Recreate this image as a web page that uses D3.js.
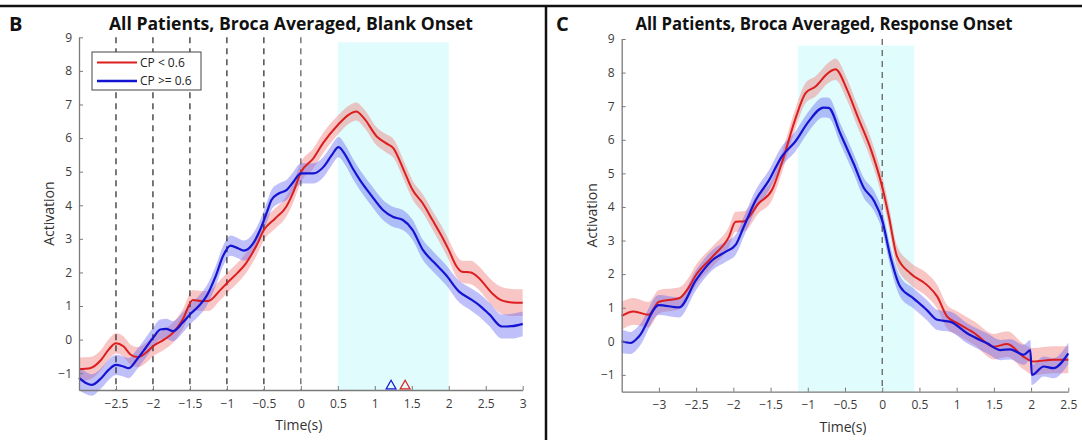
<!DOCTYPE html>
<html>
<head>
<meta charset="utf-8">
<script src="https://cdn.jsdelivr.net/npm/d3@7"></script>
<style>
    body { margin: 0; background: #fff; }
    svg { display: block; font-family: "Open Sans", sans-serif; }
    .axis path, .axis line { stroke: #7a7a7a; }
    .axis text { fill: #3c3c3c; font-size: 12px; font-family: "Open Sans", sans-serif; }
</style>
</head>
<body>
<div id="chart"></div>
<script>
// [time, mean, half band width]
const blankRed = [
    [-3.0, -0.88, 0.35], [-2.85, -0.85, 0.33], [-2.7, -0.6, 0.3], [-2.6, -0.3, 0.3],
    [-2.5, -0.11, 0.3], [-2.4, -0.2, 0.3], [-2.3, -0.45, 0.3], [-2.2, -0.52, 0.3],
    [-2.1, -0.4, 0.3], [-2.0, -0.2, 0.3], [-1.85, 0.0, 0.3], [-1.73, 0.2, 0.3],
    [-1.6, 0.59, 0.3], [-1.46, 1.18, 0.3], [-1.35, 1.15, 0.3], [-1.25, 1.15, 0.3],
    [-1.1, 1.45, 0.3], [-1.0, 1.68, 0.3], [-0.85, 2.0, 0.3], [-0.75, 2.25, 0.3],
    [-0.6, 2.8, 0.3], [-0.5, 3.26, 0.3], [-0.35, 3.6, 0.3], [-0.2, 3.95, 0.3],
    [-0.1, 4.4, 0.3], [0.0, 4.98, 0.3], [0.17, 5.4, 0.3], [0.3, 5.85, 0.3],
    [0.5, 6.39, 0.28], [0.65, 6.7, 0.27], [0.75, 6.79, 0.27], [0.85, 6.6, 0.27],
    [1.03, 6.04, 0.27], [1.15, 5.85, 0.27], [1.25, 5.7, 0.28], [1.4, 5.0, 0.28],
    [1.51, 4.46, 0.28], [1.65, 4.05, 0.28], [1.78, 3.56, 0.28], [1.9, 3.1, 0.3],
    [2.0, 2.67, 0.3], [2.1, 2.2, 0.32], [2.18, 2.02, 0.33], [2.3, 2.0, 0.35],
    [2.4, 1.85, 0.35], [2.5, 1.6, 0.36], [2.6, 1.35, 0.38], [2.7, 1.18, 0.4],
    [2.8, 1.12, 0.4], [2.9, 1.1, 0.4], [3.0, 1.1, 0.4]
];
const blankBlue = [
    [-3.0, -1.14, 0.35], [-2.9, -1.3, 0.33], [-2.83, -1.35, 0.32], [-2.7, -1.15, 0.3],
    [-2.6, -0.9, 0.3], [-2.5, -0.75, 0.3], [-2.4, -0.8, 0.3], [-2.33, -0.85, 0.3],
    [-2.22, -0.6, 0.3], [-2.1, -0.25, 0.3], [-2.0, 0.05, 0.3], [-1.9, 0.3, 0.3],
    [-1.82, 0.32, 0.3], [-1.73, 0.25, 0.3], [-1.6, 0.5, 0.3], [-1.5, 0.75, 0.3],
    [-1.38, 1.0, 0.3], [-1.28, 1.28, 0.3], [-1.15, 1.9, 0.3], [-1.05, 2.5, 0.3],
    [-0.95, 2.8, 0.3], [-0.85, 2.72, 0.3], [-0.77, 2.65, 0.3], [-0.65, 2.85, 0.3],
    [-0.55, 3.27, 0.3], [-0.45, 3.85, 0.3], [-0.4, 4.15, 0.3], [-0.3, 4.35, 0.3],
    [-0.19, 4.46, 0.3], [-0.1, 4.7, 0.3], [0.0, 4.95, 0.3], [0.17, 4.95, 0.3],
    [0.31, 5.15, 0.3], [0.42, 5.5, 0.3], [0.51, 5.73, 0.3], [0.6, 5.5, 0.3],
    [0.7, 5.1, 0.3], [0.8, 4.75, 0.3], [0.95, 4.3, 0.3], [1.11, 3.86, 0.3],
    [1.25, 3.65, 0.3], [1.38, 3.56, 0.3], [1.51, 3.27, 0.3], [1.65, 2.67, 0.3],
    [1.8, 2.3, 0.3], [1.96, 1.93, 0.3], [2.14, 1.43, 0.32], [2.3, 1.2, 0.33],
    [2.41, 1.03, 0.34], [2.55, 0.75, 0.35], [2.72, 0.39, 0.36], [2.85, 0.4, 0.37],
    [3.0, 0.47, 0.37]
];
const responseRed = [
    [-3.5, 0.76, 0.42], [-3.34, 0.89, 0.4], [-3.14, 0.79, 0.38], [-3.0, 1.18, 0.35],
    [-2.73, 1.28, 0.32], [-2.6, 1.6, 0.3], [-2.5, 1.98, 0.3], [-2.28, 2.52, 0.3],
    [-2.06, 3.11, 0.3], [-1.97, 3.56, 0.3], [-1.86, 3.57, 0.3], [-1.66, 4.11, 0.3],
    [-1.48, 4.51, 0.3], [-1.35, 5.3, 0.3], [-1.17, 6.6, 0.3], [-1.03, 7.39, 0.3],
    [-0.9, 7.58, 0.3], [-0.72, 8.0, 0.3], [-0.63, 8.1, 0.32], [-0.47, 7.48, 0.32],
    [-0.33, 6.69, 0.32], [-0.15, 5.7, 0.32], [0.0, 4.6, 0.32], [0.09, 3.71, 0.32],
    [0.2, 2.52, 0.32], [0.38, 2.02, 0.33], [0.6, 1.68, 0.35], [0.74, 1.33, 0.35],
    [0.87, 0.74, 0.35], [1.01, 0.54, 0.35], [1.24, 0.24, 0.35], [1.5, -0.16, 0.38],
    [1.68, -0.08, 0.38], [1.9, -0.46, 0.38], [2.03, -0.6, 0.4], [2.3, -0.55, 0.4],
    [2.5, -0.55, 0.4]
];
const responseBlue = [
    [-3.5, 0.0, 0.35], [-3.38, -0.05, 0.33], [-3.27, 0.14, 0.32], [-3.0, 1.08, 0.3],
    [-2.73, 1.01, 0.3], [-2.5, 1.83, 0.3], [-2.28, 2.42, 0.3], [-2.1, 2.67, 0.3],
    [-1.97, 2.87, 0.3], [-1.86, 3.41, 0.3], [-1.7, 4.2, 0.3], [-1.52, 4.8, 0.3],
    [-1.35, 5.5, 0.3], [-1.17, 5.94, 0.3], [-0.99, 6.54, 0.3], [-0.79, 6.96, 0.3],
    [-0.72, 6.95, 0.3], [-0.56, 6.17, 0.3], [-0.38, 5.27, 0.3], [-0.25, 4.58, 0.3],
    [-0.11, 4.18, 0.3], [0.0, 3.6, 0.3], [0.11, 2.52, 0.3], [0.24, 1.63, 0.3],
    [0.42, 1.28, 0.3], [0.6, 0.93, 0.3], [0.74, 0.64, 0.3], [0.92, 0.58, 0.3],
    [1.14, 0.24, 0.3], [1.41, -0.06, 0.3], [1.59, -0.26, 0.3], [1.72, -0.24, 0.3],
    [1.9, -0.4, 0.3], [1.99, -0.26, 0.3], [2.01, -1.0, 0.3], [2.17, -0.75, 0.3],
    [2.3, -0.8, 0.3], [2.5, -0.36, 0.32]
];

const blankXTicks = [-2.5, -2, -1.5, -1, -0.5, 0, 0.5, 1, 1.5, 2, 2.5, 3];
const responseXTicks = [-3, -2.5, -2, -1.5, -1, -0.5, 0, 0.5, 1, 1.5, 2, 2.5];
const yTicks = [-1, 0, 1, 2, 3, 4, 5, 6, 7, 8, 9];
const blankEvents = [-2.5, -2, -1.5, -1, -0.5, 0];
const responseEvents = [0];
const blankShade = [0.5, 2.0, 8.85];
const responseShade = [-1.13, 0.43, 8.8];
const blankMarkers = [1.22, 1.41];   // blue, red
const legendLabels = ["CP < 0.6", "CP >= 0.6"];

const RED = "#dc1e1e";
const BLUE = "#1414d2";

const svg = d3.select("#chart").append("svg")
    .attr("width", 1082)
    .attr("height", 440);

// panel frame
svg.append("line").attr("x1", 0).attr("x2", 1082).attr("y1", 6).attr("y2", 6)
    .attr("stroke", "#111").attr("stroke-width", 2.5);
svg.append("line").attr("x1", 546).attr("x2", 546).attr("y1", 6).attr("y2", 440)
    .attr("stroke", "#111").attr("stroke-width", 2.5);

function drawPanel(p) {
    const x = d3.scaleLinear().domain(p.xDomain).range([p.left, p.right]);
    const y = d3.scaleLinear().domain([-1.5, 9]).range([p.bottom, p.top]);
    const g = svg.append("g");

    g.append("rect")
        .attr("x", x(p.shade[0]))
        .attr("width", x(p.shade[1]) - x(p.shade[0]))
        .attr("y", y(p.shade[2]))
        .attr("height", y(-1.5) - y(p.shade[2]))
        .attr("fill", "#e0fcfc");

    const area = d3.area()
        .curve(d3.curveMonotoneX)
        .x(d => x(d[0]))
        .y0(d => y(d[1] - d[2]))
        .y1(d => y(d[1] + d[2]));
    const line = d3.line()
        .curve(d3.curveMonotoneX)
        .x(d => x(d[0]))
        .y(d => y(d[1]));

    g.append("path").datum(p.red).attr("d", area)
        .attr("fill", "#f07070").attr("opacity", 0.4);
    g.append("path").datum(p.blue).attr("d", area)
        .attr("fill", "#6060f0").attr("opacity", 0.4);

    g.selectAll(".event")
        .data(p.events)
        .enter()
        .append("line")
        .attr("class", "event")
        .attr("x1", d => x(d)).attr("x2", d => x(d))
        .attr("y1", y(9)).attr("y2", y(-1.5))
        .attr("stroke", d => d === 0 ? "#555" : "#222")
        .attr("stroke-width", 1.2)
        .attr("stroke-dasharray", "6,5");

    g.append("path").datum(p.red).attr("d", line)
        .attr("fill", "none").attr("stroke", RED).attr("stroke-width", 2);
    g.append("path").datum(p.blue).attr("d", line)
        .attr("fill", "none").attr("stroke", BLUE).attr("stroke-width", 2.2);

    g.append("g")
        .attr("class", "axis")
        .attr("transform", "translate(0," + p.bottom + ")")
        .call(d3.axisBottom(x).tickValues(p.xTicks).tickSizeInner(-4).tickSizeOuter(0)
            .tickPadding(9).tickFormat(d3.format("")));
    g.append("g")
        .attr("class", "axis")
        .attr("transform", "translate(" + p.left + ",0)")
        .call(d3.axisLeft(y).tickValues(yTicks).tickSizeInner(-4).tickSizeOuter(0)
            .tickPadding(7));
    g.selectAll(".axis path").attr("stroke-width", 1.3);

    g.append("text")
        .attr("x", p.titleX).attr("y", 30)
        .attr("text-anchor", "middle")
        .attr("font-weight", "bold")
        .attr("font-size", 18)
        .attr("textLength", p.titleLen)
        .attr("lengthAdjust", "spacingAndGlyphs")
        .attr("fill", "#111")
        .text(p.title);
    g.append("text")
        .attr("x", p.letterX).attr("y", 31)
        .attr("font-weight", "bold")
        .attr("font-size", 20)
        .attr("fill", "#111")
        .text(p.letter);

    g.append("text")
        .attr("transform", "translate(" + (p.left - 25) + "," + ((p.top + p.bottom) / 2) + ") rotate(-90)")
        .attr("text-anchor", "middle")
        .attr("font-size", 14)
        .attr("fill", "#333")
        .text("Activation");
    g.append("text")
        .attr("x", (p.left + p.right) / 2 - 2).attr("y", p.bottom + 40)
        .attr("text-anchor", "middle")
        .attr("font-size", 14)
        .attr("fill", "#333")
        .text("Time(s)");

    return { g, x, y };
}

const left = drawPanel({
    xDomain: [-3, 3], left: 79, right: 522.7, top: 37.3, bottom: 390,
    red: blankRed, blue: blankBlue, shade: blankShade, events: blankEvents,
    xTicks: blankXTicks, title: "All Patients, Broca Averaged, Blank Onset",
    titleX: 291, titleLen: 364, letter: "B", letterX: 9
});

drawPanel({
    xDomain: [-3.5, 2.5], left: 621.7, right: 1068.3, top: 39, bottom: 391.7,
    red: responseRed, blue: responseBlue, shade: responseShade, events: responseEvents,
    xTicks: responseXTicks, title: "All Patients, Broca Averaged, Response Onset",
    titleX: 824, titleLen: 377, letter: "C", letterX: 556
});

// onset markers on the blank panel
const tri = d3.symbol().type(d3.symbolTriangle).size(42);
left.g.selectAll(".marker")
    .data(blankMarkers)
    .enter()
    .append("path")
    .attr("class", "marker")
    .attr("transform", d => "translate(" + left.x(d) + "," + (left.y(-1.5) - 4) + ")")
    .attr("d", tri)
    .attr("fill", "none")
    .attr("stroke", (d, i) => i === 0 ? BLUE : RED)
    .attr("stroke-width", 1.2);

// legend
const legend = left.g.append("g").attr("transform", "translate(92,52)");
legend.append("rect")
    .attr("width", 109).attr("height", 38)
    .attr("fill", "#fff").attr("stroke", "#444").attr("stroke-width", 1);
legend.selectAll(".entry")
    .data(legendLabels)
    .enter()
    .append("g")
    .attr("class", "entry")
    .attr("transform", (d, i) => "translate(0," + (10.5 + i * 18.5) + ")")
    .each(function (d, i) {
        const e = d3.select(this);
        e.append("line")
            .attr("x1", 5).attr("x2", 45)
            .attr("stroke", i === 0 ? RED : BLUE)
            .attr("stroke-width", i === 0 ? 2 : 2.6);
        e.append("text")
            .attr("x", 48).attr("dy", "0.35em")
            .attr("font-size", 12)
            .attr("fill", "#222")
            .text(d);
    });
</script>
</body>
</html>
